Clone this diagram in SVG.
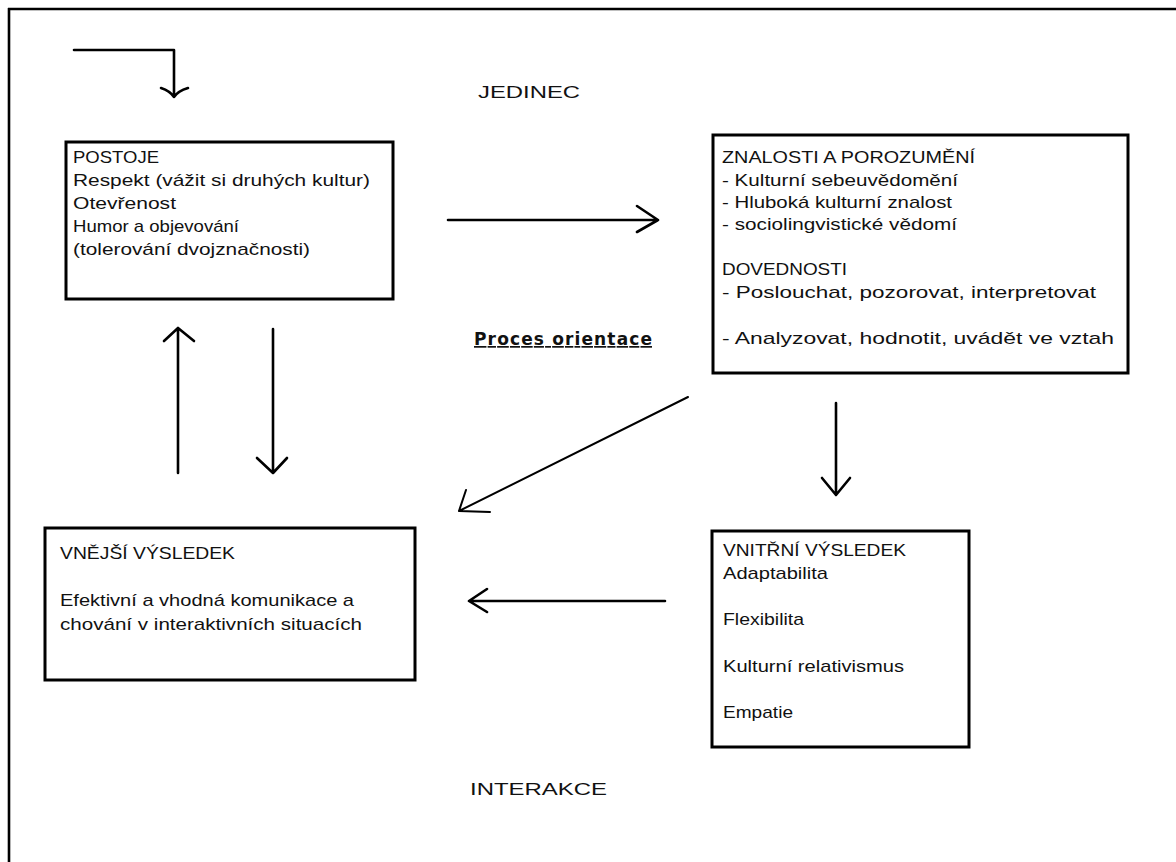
<svg xmlns="http://www.w3.org/2000/svg" width="1176" height="862" viewBox="0 0 1176 862">
<style>
text{font-family:"Liberation Sans",Arial,sans-serif;font-size:17px;fill:#111}
.box{fill:#fff;stroke:#000;stroke-width:3}
.ln{fill:none;stroke:#000;stroke-width:2.6;stroke-linecap:round;stroke-linejoin:round}
.thin{stroke-width:2}
.bold{font-family:"DejaVu Sans",Verdana,sans-serif;font-weight:bold;font-size:17px;text-decoration:underline}
</style>
<rect width="1176" height="862" fill="#fff"/>
<g id="frame"><path class="ln" d="M8,9 H1176 M9,8 V862" style="stroke-linecap:butt"/></g>
<g id="jedinec"><text x="478" y="98" textLength="102" lengthAdjust="spacingAndGlyphs">JEDINEC</text></g>
<g id="interakce"><text x="470" y="795" textLength="137" lengthAdjust="spacingAndGlyphs">INTERAKCE</text></g>
<g id="proces"><text class="bold" x="474" y="345" textLength="178">Proces orientace</text></g>
<g id="postoje">
<rect class="box" x="66" y="142" width="327" height="157"/>
<text x="73" y="163" textLength="86" lengthAdjust="spacingAndGlyphs">POSTOJE</text>
<text x="73" y="186" textLength="297" lengthAdjust="spacingAndGlyphs">Respekt (vážit si druhých kultur)</text>
<text x="73" y="209" textLength="103" lengthAdjust="spacingAndGlyphs">Otevřenost</text>
<text x="73" y="232" textLength="166" lengthAdjust="spacingAndGlyphs">Humor a objevování</text>
<text x="73" y="255" textLength="237" lengthAdjust="spacingAndGlyphs">(tolerování dvojznačnosti)</text>
</g>
<g id="znalosti">
<rect class="box" x="713" y="135" width="415" height="238"/>
<text x="722" y="163" textLength="253" lengthAdjust="spacingAndGlyphs">ZNALOSTI A POROZUMĚNÍ</text>
<text x="722" y="186" textLength="236" lengthAdjust="spacingAndGlyphs">- Kulturní sebeuvědomění</text>
<text x="722" y="208" textLength="230" lengthAdjust="spacingAndGlyphs">- Hluboká kulturní znalost</text>
<text x="722" y="230" textLength="235" lengthAdjust="spacingAndGlyphs">- sociolingvistické vědomí</text>
<text x="722" y="275" textLength="125" lengthAdjust="spacingAndGlyphs">DOVEDNOSTI</text>
<text x="722" y="298" textLength="374" lengthAdjust="spacingAndGlyphs">- Poslouchat, pozorovat, interpretovat</text>
<text x="722" y="344" textLength="392" lengthAdjust="spacingAndGlyphs">- Analyzovat, hodnotit, uvádět ve vztah</text>
</g>
<g id="vnejsi">
<rect class="box" x="45" y="528" width="370" height="152"/>
<text x="60" y="559" textLength="175" lengthAdjust="spacingAndGlyphs">VNĚJŠÍ VÝSLEDEK</text>
<text x="60" y="606" textLength="294" lengthAdjust="spacingAndGlyphs">Efektivní a vhodná komunikace a</text>
<text x="60" y="630" textLength="302" lengthAdjust="spacingAndGlyphs">chování v interaktivních situacích</text>
</g>
<g id="vnitrni">
<rect class="box" x="712" y="531" width="257" height="216"/>
<text x="723" y="556" textLength="183" lengthAdjust="spacingAndGlyphs">VNITŘNÍ VÝSLEDEK</text>
<text x="723" y="579" textLength="105" lengthAdjust="spacingAndGlyphs">Adaptabilita</text>
<text x="723" y="625" textLength="81" lengthAdjust="spacingAndGlyphs">Flexibilita</text>
<text x="723" y="672" textLength="181" lengthAdjust="spacingAndGlyphs">Kulturní relativismus</text>
<text x="723" y="718" textLength="70" lengthAdjust="spacingAndGlyphs">Empatie</text>
</g>
<g id="connectors">
<path class="ln" d="M74,50 H174 V97 M161,88 Q170,91 174,97 Q178,91 188,88"/>
<path class="ln" d="M448,220 H658 M637,206 L658,220 L637,232"/>
<path class="ln thin" d="M688,397 L459,511 M466,490 L459,511 L490,512"/>
<path class="ln" d="M178,473 V328 M164,341 L178,328 L194,341"/>
<path class="ln" d="M273,329 V473 M257,458 L273,473 L287,458"/>
<path class="ln" d="M836,403 V495 M822,478 L836,495 L850,478"/>
<path class="ln" d="M665,601 H469 M487,589 L469,601 L487,612"/>
</g>
</svg>
